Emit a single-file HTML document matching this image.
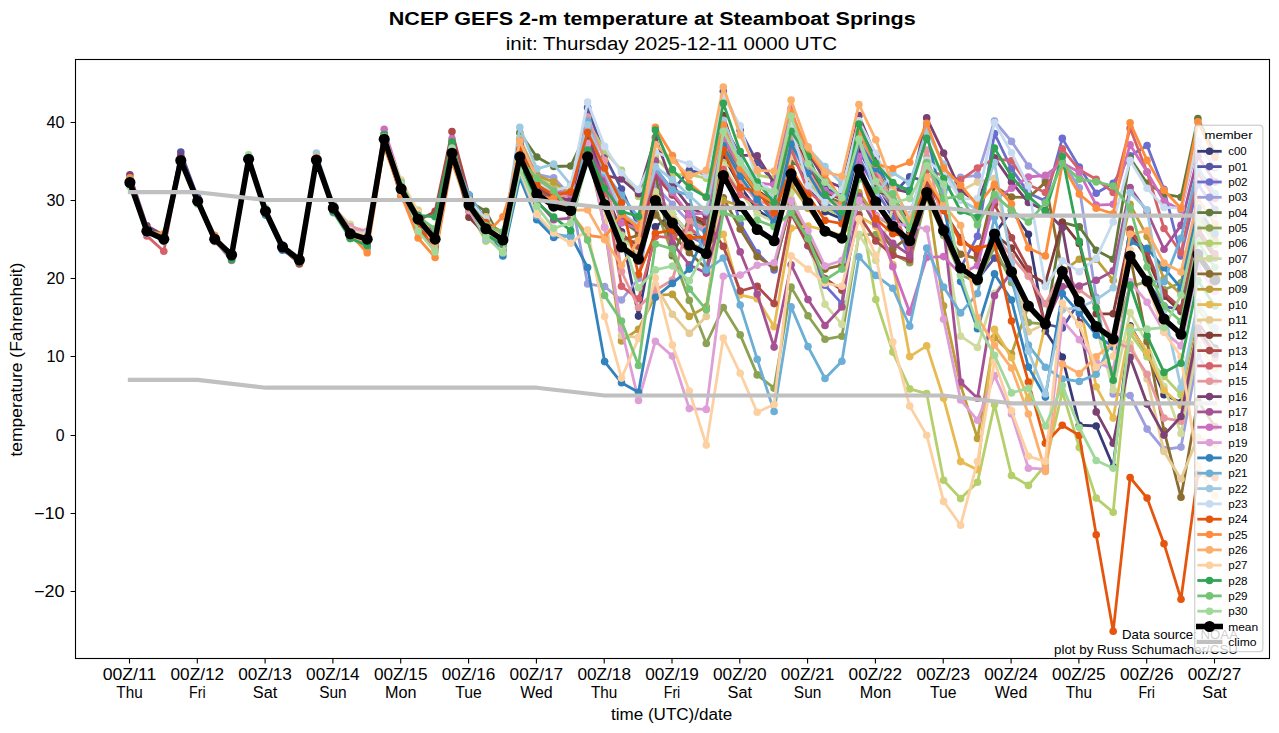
<!DOCTYPE html>
<html><head><meta charset="utf-8"><title>NCEP GEFS 2-m temperature at Steamboat Springs</title>
<style>html,body{margin:0;padding:0;background:#fff;overflow:hidden}svg{display:block}text{font-family:"Liberation Sans",sans-serif;fill:#000}</style></head><body>
<svg width="1279" height="733" viewBox="0 0 1279 733">
<rect width="1279" height="733" fill="#fff"/>
<defs>
<clipPath id="ax"><rect x="75.5" y="59.5" width="1194.0" height="599.0"/></clipPath>
<marker id="m0" markerWidth="10" markerHeight="10" refX="5" refY="5" markerUnits="userSpaceOnUse"><circle cx="5" cy="5" r="3.8" fill="#393b79"/></marker>
<marker id="m1" markerWidth="10" markerHeight="10" refX="5" refY="5" markerUnits="userSpaceOnUse"><circle cx="5" cy="5" r="3.8" fill="#5254a3"/></marker>
<marker id="m2" markerWidth="10" markerHeight="10" refX="5" refY="5" markerUnits="userSpaceOnUse"><circle cx="5" cy="5" r="3.8" fill="#6b6ecf"/></marker>
<marker id="m3" markerWidth="10" markerHeight="10" refX="5" refY="5" markerUnits="userSpaceOnUse"><circle cx="5" cy="5" r="3.8" fill="#9c9ede"/></marker>
<marker id="m4" markerWidth="10" markerHeight="10" refX="5" refY="5" markerUnits="userSpaceOnUse"><circle cx="5" cy="5" r="3.8" fill="#637939"/></marker>
<marker id="m5" markerWidth="10" markerHeight="10" refX="5" refY="5" markerUnits="userSpaceOnUse"><circle cx="5" cy="5" r="3.8" fill="#8ca252"/></marker>
<marker id="m6" markerWidth="10" markerHeight="10" refX="5" refY="5" markerUnits="userSpaceOnUse"><circle cx="5" cy="5" r="3.8" fill="#b5cf6b"/></marker>
<marker id="m7" markerWidth="10" markerHeight="10" refX="5" refY="5" markerUnits="userSpaceOnUse"><circle cx="5" cy="5" r="3.8" fill="#cedb9c"/></marker>
<marker id="m8" markerWidth="10" markerHeight="10" refX="5" refY="5" markerUnits="userSpaceOnUse"><circle cx="5" cy="5" r="3.8" fill="#8c6d31"/></marker>
<marker id="m9" markerWidth="10" markerHeight="10" refX="5" refY="5" markerUnits="userSpaceOnUse"><circle cx="5" cy="5" r="3.8" fill="#bd9e39"/></marker>
<marker id="m10" markerWidth="10" markerHeight="10" refX="5" refY="5" markerUnits="userSpaceOnUse"><circle cx="5" cy="5" r="3.8" fill="#e7ba52"/></marker>
<marker id="m11" markerWidth="10" markerHeight="10" refX="5" refY="5" markerUnits="userSpaceOnUse"><circle cx="5" cy="5" r="3.8" fill="#e7cb94"/></marker>
<marker id="m12" markerWidth="10" markerHeight="10" refX="5" refY="5" markerUnits="userSpaceOnUse"><circle cx="5" cy="5" r="3.8" fill="#843c39"/></marker>
<marker id="m13" markerWidth="10" markerHeight="10" refX="5" refY="5" markerUnits="userSpaceOnUse"><circle cx="5" cy="5" r="3.8" fill="#ad494a"/></marker>
<marker id="m14" markerWidth="10" markerHeight="10" refX="5" refY="5" markerUnits="userSpaceOnUse"><circle cx="5" cy="5" r="3.8" fill="#d6616b"/></marker>
<marker id="m15" markerWidth="10" markerHeight="10" refX="5" refY="5" markerUnits="userSpaceOnUse"><circle cx="5" cy="5" r="3.8" fill="#e7969c"/></marker>
<marker id="m16" markerWidth="10" markerHeight="10" refX="5" refY="5" markerUnits="userSpaceOnUse"><circle cx="5" cy="5" r="3.8" fill="#7b4173"/></marker>
<marker id="m17" markerWidth="10" markerHeight="10" refX="5" refY="5" markerUnits="userSpaceOnUse"><circle cx="5" cy="5" r="3.8" fill="#a55194"/></marker>
<marker id="m18" markerWidth="10" markerHeight="10" refX="5" refY="5" markerUnits="userSpaceOnUse"><circle cx="5" cy="5" r="3.8" fill="#ce6dbd"/></marker>
<marker id="m19" markerWidth="10" markerHeight="10" refX="5" refY="5" markerUnits="userSpaceOnUse"><circle cx="5" cy="5" r="3.8" fill="#de9ed6"/></marker>
<marker id="m20" markerWidth="10" markerHeight="10" refX="5" refY="5" markerUnits="userSpaceOnUse"><circle cx="5" cy="5" r="3.8" fill="#3182bd"/></marker>
<marker id="m21" markerWidth="10" markerHeight="10" refX="5" refY="5" markerUnits="userSpaceOnUse"><circle cx="5" cy="5" r="3.8" fill="#6baed6"/></marker>
<marker id="m22" markerWidth="10" markerHeight="10" refX="5" refY="5" markerUnits="userSpaceOnUse"><circle cx="5" cy="5" r="3.8" fill="#9ecae1"/></marker>
<marker id="m23" markerWidth="10" markerHeight="10" refX="5" refY="5" markerUnits="userSpaceOnUse"><circle cx="5" cy="5" r="3.8" fill="#c6dbef"/></marker>
<marker id="m24" markerWidth="10" markerHeight="10" refX="5" refY="5" markerUnits="userSpaceOnUse"><circle cx="5" cy="5" r="3.8" fill="#e6550d"/></marker>
<marker id="m25" markerWidth="10" markerHeight="10" refX="5" refY="5" markerUnits="userSpaceOnUse"><circle cx="5" cy="5" r="3.8" fill="#fd8d3c"/></marker>
<marker id="m26" markerWidth="10" markerHeight="10" refX="5" refY="5" markerUnits="userSpaceOnUse"><circle cx="5" cy="5" r="3.8" fill="#fdae6b"/></marker>
<marker id="m27" markerWidth="10" markerHeight="10" refX="5" refY="5" markerUnits="userSpaceOnUse"><circle cx="5" cy="5" r="3.8" fill="#fdd0a2"/></marker>
<marker id="m28" markerWidth="10" markerHeight="10" refX="5" refY="5" markerUnits="userSpaceOnUse"><circle cx="5" cy="5" r="3.8" fill="#31a354"/></marker>
<marker id="m29" markerWidth="10" markerHeight="10" refX="5" refY="5" markerUnits="userSpaceOnUse"><circle cx="5" cy="5" r="3.8" fill="#74c476"/></marker>
<marker id="m30" markerWidth="10" markerHeight="10" refX="5" refY="5" markerUnits="userSpaceOnUse"><circle cx="5" cy="5" r="3.8" fill="#a1d99b"/></marker>
<marker id="mm" markerWidth="14" markerHeight="14" refX="7" refY="7" markerUnits="userSpaceOnUse"><circle cx="7" cy="7" r="5.55" fill="#000"/></marker>
</defs>
<g clip-path="url(#ax)" fill="none" stroke-linejoin="round" stroke-linecap="butt">
<polyline points="129.9,182.9 146.9,230.9 163.8,238.4 180.8,159.7 197.7,201.1 214.7,239.1 231.6,255.2 248.6,159.5 265.5,211.9 282.5,247.3 299.4,259.2 316.4,158.9 333.3,207.2 350.3,234.4 367.2,239.4 384.2,136.1 401.1,183.5 418.1,217.7 435.1,246.6 452,151.2 469,195.6 485.9,220.6 502.9,236.1 519.8,148.9 536.8,186 553.7,198.4 570.7,202.7 587.6,142.1 604.6,190 621.5,231.7 638.5,316.1 655.4,226.8 672.4,214.2 689.3,233.8 706.3,238.8 723.3,155.9 740.2,186.4 757.2,210 774.1,221.2 791.1,154.2 808,183.5 825,211.7 841.9,218.7 858.9,149.7 875.8,182.2 892.8,211.6 909.7,231 926.7,187.6 943.6,230.5 960.6,268 977.5,279.5 994.5,234 1011.5,210.6 1028.4,234.3 1045.4,330.9 1062.3,357 1079.3,425.2 1096.2,426 1113.2,466.7 1130.1,325.7 1147.1,353.8 1164,394.7 1181,402.5 1197.9,322.6 1214.9,348.1" stroke="#393b79" stroke-width="2.78" marker-start="url(#m0)" marker-mid="url(#m0)" marker-end="url(#m0)"/>
<polyline points="129.9,184.1 146.9,232.9 163.8,239.3 180.8,152 197.7,197.3 214.7,239.6 231.6,256.1 248.6,160.6 265.5,212.4 282.5,247.2 299.4,260.1 316.4,160.9 333.3,210 350.3,236.8 367.2,239 384.2,141.6 401.1,190 418.1,219 435.1,245.1 452,157 469,202 485.9,237.2 502.9,247.2 519.8,139.5 536.8,176.6 553.7,189 570.7,193.3 587.6,107.6 604.6,155.5 621.5,189.1 638.5,227 655.4,168.2 672.4,190.7 689.3,170.4 706.3,174.1 723.3,91.2 740.2,130.3 757.2,162.4 774.1,182.1 791.1,140.6 808,160 825,188.2 841.9,195.3 858.9,126.2 875.8,158.8 892.8,194 909.7,176.7 926.7,181.7 943.6,230.5 960.6,268 977.5,279.5 994.5,258.1 1011.5,271.9 1028.4,306 1045.4,324 1062.3,328 1079.3,301.6 1096.2,326.5 1113.2,339 1130.1,256.1 1147.1,281.1 1164,306.1 1181,310.1 1197.9,232.6 1214.9,258.1" stroke="#5254a3" stroke-width="2.78" marker-start="url(#m1)" marker-mid="url(#m1)" marker-end="url(#m1)"/>
<polyline points="129.9,181.7 146.9,229 163.8,237.2 180.8,158.6 197.7,200 214.7,238.8 231.6,254.9 248.6,159 265.5,211.8 282.5,248.9 299.4,262.2 316.4,162.2 333.3,210.2 350.3,232.2 367.2,240.3 384.2,141.5 401.1,195.1 418.1,221.1 435.1,236.2 452,152.7 469,205.1 485.9,230 502.9,242.7 519.8,152 536.8,189.1 553.7,201.5 570.7,205.8 587.6,148 604.6,195.9 621.5,238.2 638.5,250.5 655.4,191.7 672.4,214.2 689.3,236.2 706.3,244.7 723.3,163.8 740.2,223.7 757.2,252.7 774.1,269.9 791.1,200.4 808,245.8 825,285.3 841.9,303.6 858.9,157.5 875.8,190 892.8,217.5 909.7,257.4 926.7,189.6 943.6,230.5 960.6,268 977.5,236.2 994.5,133.5 1011.5,168.8 1028.4,192.9 1045.4,200.9 1062.3,138.4 1079.3,167.1 1096.2,193.3 1113.2,183.2 1130.1,155.7 1147.1,145.5 1164,189.4 1181,255.9 1197.9,183.9 1214.9,209.3" stroke="#6b6ecf" stroke-width="2.78" marker-start="url(#m2)" marker-mid="url(#m2)" marker-end="url(#m2)"/>
<polyline points="129.9,180.8 146.9,229.7 163.8,238.5 180.8,160.6 197.7,200.2 214.7,237.3 231.6,253.4 248.6,157.7 265.5,209.5 282.5,244.8 299.4,257.8 316.4,157.8 333.3,212.7 350.3,233.7 367.2,235.9 384.2,134.1 401.1,183.5 418.1,221.9 435.1,242.6 452,151.2 469,211.1 485.9,232.6 502.9,236.4 519.8,145.2 536.8,174.3 553.7,177.8 570.7,195.7 587.6,283.9 604.6,286.6 621.5,300 638.5,278.5 655.4,186 672.4,204.3 689.3,222.1 706.3,233 723.3,148.1 740.2,178.6 757.2,202.2 774.1,213.4 791.1,146.4 808,175.6 825,203.9 841.9,210.9 858.9,141.9 875.8,186.4 892.8,205.6 909.7,214.8 926.7,161.3 943.6,192.6 960.6,177.4 977.5,175.4 994.5,121 1011.5,141.4 1028.4,166 1045.4,179.8 1062.3,161.3 1079.3,187.8 1096.2,297.2 1113.2,394 1130.1,395.5 1147.1,429.1 1164,449.5 1181,447.1 1197.9,355.9 1214.9,381.4" stroke="#9c9ede" stroke-width="2.78" marker-start="url(#m3)" marker-mid="url(#m3)" marker-end="url(#m3)"/>
<polyline points="129.9,182.1 146.9,232.2 163.8,239.7 180.8,160.5 197.7,201.2 214.7,238.7 231.6,256 248.6,159.8 265.5,211.7 282.5,247.3 299.4,261.3 316.4,160.2 333.3,210.2 350.3,237.8 367.2,242.8 384.2,144.4 401.1,195.3 418.1,226.6 435.1,236.5 452,148.9 469,200.9 485.9,211.4 502.9,243 519.8,132.7 536.8,157 553.7,166.5 570.7,166 587.6,130.4 604.6,178.3 621.5,220.6 638.5,232.9 655.4,174.1 672.4,255.8 689.3,218.6 706.3,227.1 723.3,140.3 740.2,170.8 757.2,194.3 774.1,205.6 791.1,162.6 808,167.8 825,196.1 841.9,203.1 858.9,134 875.8,166.6 892.8,199.9 909.7,223.2 926.7,183.7 943.6,230.5 960.6,268 977.5,279.5 994.5,234 1011.5,271.9 1028.4,306 1045.4,324 1062.3,222.3 1079.3,226.9 1096.2,250.2 1113.2,259.2 1130.1,158.1 1147.1,183.2 1164,194.1 1181,197.2 1197.9,118.5 1214.9,153.5" stroke="#637939" stroke-width="2.78" marker-start="url(#m4)" marker-mid="url(#m4)" marker-end="url(#m4)"/>
<polyline points="129.9,183.5 146.9,231.2 163.8,238.7 180.8,160 197.7,200.9 214.7,239 231.6,254.4 248.6,159.1 265.5,210.9 282.5,246.2 299.4,259.6 316.4,158.8 333.3,206.6 350.3,229.7 367.2,236.2 384.2,138.7 401.1,189.6 418.1,219.9 435.1,236.4 452,153 469,203.3 485.9,219 502.9,247.7 519.8,154.2 536.8,191.3 553.7,203.7 570.7,208 587.6,152 604.6,200 621.5,242.3 638.5,240.9 655.4,206.7 672.4,253.8 689.3,300.4 706.3,343.5 723.3,307.5 740.2,334.9 757.2,374.9 774.1,388.2 791.1,287.1 808,315.8 825,339.3 841.9,336.2 858.9,234.6 875.8,234.6 892.8,253.7 909.7,262.8 926.7,196.5 943.6,235.6 960.6,274.7 977.5,282.5 994.5,247.3 1011.5,282.5 1028.4,322.6 1045.4,324 1062.3,271.6 1079.3,301.6 1096.2,326.5 1113.2,339 1130.1,286.6 1147.1,281.7 1164,289.7 1181,282.7 1197.9,207.9 1214.9,233.4" stroke="#8ca252" stroke-width="2.78" marker-start="url(#m5)" marker-mid="url(#m5)" marker-end="url(#m5)"/>
<polyline points="129.9,182.9 146.9,231.5 163.8,238.9 180.8,159.9 197.7,201.1 214.7,237.5 231.6,253.9 248.6,158.4 265.5,209.5 282.5,246.4 299.4,258.8 316.4,158 333.3,205.8 350.3,231.8 367.2,233.9 384.2,136.8 401.1,188.1 418.1,221.3 435.1,242 452,161.1 469,211.4 485.9,241.1 502.9,242.5 519.8,138 536.8,175 553.7,187.5 570.7,191.8 587.6,121.5 604.6,150.8 621.5,170.4 638.5,196.5 655.4,157.4 672.4,174.6 689.3,174.6 706.3,178.2 723.3,162.6 740.2,172.4 757.2,175.1 774.1,178.2 791.1,137.9 808,177 825,208.2 841.9,216.1 858.9,200.4 875.8,299.6 892.8,352.1 909.7,388.9 926.7,393.6 943.6,480.2 960.6,498.6 977.5,482.2 994.5,404.6 1011.5,475.5 1028.4,485.4 1045.4,465.2 1062.3,391.6 1079.3,447.4 1096.2,498.1 1113.2,512.3 1130.1,333.4 1147.1,356.8 1164,376.4 1181,394.7 1197.9,308.8 1214.9,334.3" stroke="#b5cf6b" stroke-width="2.78" marker-start="url(#m6)" marker-mid="url(#m6)" marker-end="url(#m6)"/>
<polyline points="129.9,184.3 146.9,231.9 163.8,241.4 180.8,161.3 197.7,203.1 214.7,239.9 231.6,257 248.6,160.5 265.5,210.9 282.5,247.1 299.4,260 316.4,159.2 333.3,207.5 350.3,224.4 367.2,236.6 384.2,135.4 401.1,187.7 418.1,210 435.1,238.3 452,149.3 469,204.2 485.9,228 502.9,236.2 519.8,151.8 536.8,187.5 553.7,199.5 570.7,203.2 587.6,148.9 604.6,196.8 621.5,239.1 638.5,251.4 655.4,191.9 672.4,213.6 689.3,234.4 706.3,241.8 723.3,165.2 740.2,192.6 757.2,213.7 774.1,221.5 791.1,192.6 808,238 825,304.3 841.9,324.4 858.9,234.6 875.8,260.5 892.8,208.6 909.7,229 926.7,186.7 943.6,230.5 960.6,336.2 977.5,347.4 994.5,293.3 1011.5,271.9 1028.4,306 1045.4,324 1062.3,271.6 1079.3,301.6 1096.2,326.5 1113.2,390 1130.1,312.6 1147.1,343.1 1164,386.5 1181,433.5 1197.9,343.7 1214.9,369.2" stroke="#cedb9c" stroke-width="2.78" marker-start="url(#m7)" marker-mid="url(#m7)" marker-end="url(#m7)"/>
<polyline points="129.9,183.8 146.9,231.4 163.8,238.5 180.8,161.1 197.7,202.9 214.7,240.3 231.6,255.7 248.6,160.3 265.5,213.3 282.5,249.2 299.4,262 316.4,162.2 333.3,210.2 350.3,236.2 367.2,240.6 384.2,142.6 401.1,188.8 418.1,228 435.1,247.8 452,156.3 469,200.5 485.9,229 502.9,239.2 519.8,153 536.8,190 553.7,202.5 570.7,206.8 587.6,149.7 604.6,197.7 621.5,240 638.5,235.4 655.4,215 672.4,234.1 689.3,252.7 706.3,268.5 723.3,197.8 740.2,229.1 757.2,256.6 774.1,267.5 791.1,204.2 808,237.2 825,269.1 841.9,265.2 858.9,194.7 875.8,225.8 892.8,248.8 909.7,236.1 926.7,190.2 943.6,230.5 960.6,254.2 977.5,258.9 994.5,186.3 1011.5,197 1028.4,197.7 1045.4,182.4 1062.3,271.6 1079.3,301.6 1096.2,326.5 1113.2,339 1130.1,256.1 1147.1,341.4 1164,430.7 1181,497.3 1197.9,401.1 1214.9,426.6" stroke="#8c6d31" stroke-width="2.78" marker-start="url(#m8)" marker-mid="url(#m8)" marker-end="url(#m8)"/>
<polyline points="129.9,183.9 146.9,231.5 163.8,240.3 180.8,160.5 197.7,200.3 214.7,237.6 231.6,254.5 248.6,159.8 265.5,210.8 282.5,246.8 299.4,259.9 316.4,158.4 333.3,207.6 350.3,238.4 367.2,243.3 384.2,146.8 401.1,191.4 418.1,220.2 435.1,242.6 452,155.7 469,203.2 485.9,227.8 502.9,233 519.8,144 536.8,175.3 553.7,182.1 570.7,194.5 587.6,148.9 604.6,227 621.5,340.9 638.5,329.4 655.4,295.4 672.4,294.4 689.3,316.4 706.3,306.7 723.3,200.4 740.2,206 757.2,229.5 774.1,240.8 791.1,184.8 808,208.2 825,231.2 841.9,238.3 858.9,192.6 875.8,216.1 892.8,226.2 909.7,240.8 926.7,188.7 943.6,305.9 960.6,385.1 977.5,438.4 994.5,337.3 1011.5,353.8 1028.4,306 1045.4,324 1062.3,271.6 1079.3,259.2 1096.2,259.2 1113.2,280.3 1130.1,204.4 1147.1,236.4 1164,278.8 1181,294.1 1197.9,214.2 1214.9,239.7" stroke="#bd9e39" stroke-width="2.78" marker-start="url(#m9)" marker-mid="url(#m9)" marker-end="url(#m9)"/>
<polyline points="129.9,183.9 146.9,232.1 163.8,239.4 180.8,161.1 197.7,202.8 214.7,240.1 231.6,254.9 248.6,159.9 265.5,210.7 282.5,247.5 299.4,261.9 316.4,161.6 333.3,207.7 350.3,233.9 367.2,239.6 384.2,139.5 401.1,188.7 418.1,221.5 435.1,246.7 452,157 469,211.2 485.9,234.3 502.9,250.2 519.8,155.2 536.8,192.2 553.7,204.7 570.7,209 587.6,153.8 604.6,201.8 621.5,244.1 638.5,256.3 655.4,197.5 672.4,220.1 689.3,242.1 706.3,250.5 723.3,234.3 740.2,294.9 757.2,298.8 774.1,326.7 791.1,228.3 808,226 825,230.1 841.9,235.6 858.9,216.1 875.8,226 892.8,264.5 909.7,356.6 926.7,345.9 943.6,398.3 960.6,461.6 977.5,469.7 994.5,329.4 1011.5,357.7 1028.4,399.1 1045.4,324 1062.3,271.6 1079.3,301.6 1096.2,386.8 1113.2,418.1 1130.1,327.3 1147.1,352.3 1164,390.2 1181,405.5 1197.9,325.6 1214.9,351.1" stroke="#e7ba52" stroke-width="2.78" marker-start="url(#m10)" marker-mid="url(#m10)" marker-end="url(#m10)"/>
<polyline points="129.9,181.2 146.9,229.7 163.8,237.6 180.8,159.3 197.7,199.7 214.7,238 231.6,255.2 248.6,160.7 265.5,212.6 282.5,246.6 299.4,260.2 316.4,161.1 333.3,209.5 350.3,236.7 367.2,240.9 384.2,142.8 401.1,189.5 418.1,227.1 435.1,242.3 452,157.3 469,215.7 485.9,216.8 502.9,242.6 519.8,144.2 536.8,181.3 553.7,193.7 570.7,198 587.6,153.5 604.6,208.2 621.5,335.7 638.5,337.3 655.4,285.1 672.4,314.2 689.3,333.4 706.3,316.4 723.3,175.5 740.2,206 757.2,229.5 774.1,240.8 791.1,155.9 808,176.7 825,200 841.9,207 858.9,138 875.8,170.5 892.8,202.8 909.7,225.1 926.7,156.3 943.6,173.8 960.6,191 977.5,182.1 994.5,178.2 1011.5,256.9 1028.4,331.8 1045.4,324 1062.3,271.6 1079.3,301.6 1096.2,326.5 1113.2,339 1130.1,343.8 1147.1,379 1164,451.4 1181,479 1197.9,437 1214.9,444.2" stroke="#e7cb94" stroke-width="2.78" marker-start="url(#m11)" marker-mid="url(#m11)" marker-end="url(#m11)"/>
<polyline points="129.9,181.2 146.9,230.8 163.8,238.7 180.8,159.8 197.7,201.1 214.7,239.1 231.6,254.8 248.6,158.7 265.5,211.8 282.5,249.1 299.4,263.5 316.4,160.8 333.3,208.9 350.3,236.6 367.2,238.1 384.2,134.4 401.1,183.8 418.1,216.7 435.1,234.1 452,151.2 469,217.2 485.9,234.8 502.9,242 519.8,141.1 536.8,178.1 553.7,190.6 570.7,194.9 587.6,127.4 604.6,175.4 621.5,217.7 638.5,229.9 655.4,171.2 672.4,193.7 689.3,215.7 706.3,224.2 723.3,115.5 740.2,166.9 757.2,190.4 774.1,201.7 791.1,134.7 808,163.9 825,192.1 841.9,199.2 858.9,130.1 875.8,190.7 892.8,196.9 909.7,221.2 926.7,182.8 943.6,230.5 960.6,268 977.5,279.5 994.5,234 1011.5,248 1028.4,273.6 1045.4,283.2 1062.3,222.2 1079.3,243.4 1096.2,313.8 1113.2,313.8 1130.1,233.4 1147.1,258.4 1164,296.3 1181,311.6 1197.9,231.7 1214.9,257.2" stroke="#843c39" stroke-width="2.78" marker-start="url(#m12)" marker-mid="url(#m12)" marker-end="url(#m12)"/>
<polyline points="129.9,183.2 146.9,232.3 163.8,239.9 180.8,160.7 197.7,200.7 214.7,239.1 231.6,255.1 248.6,160.4 265.5,212.4 282.5,246.7 299.4,263.9 316.4,160.9 333.3,209.7 350.3,230.3 367.2,234.8 384.2,135.1 401.1,193.9 418.1,220.4 435.1,211.4 452,131.6 469,195 485.9,225.5 502.9,235.4 519.8,149.8 536.8,186.9 553.7,199.3 570.7,203.6 587.6,143.8 604.6,191.8 621.5,234.1 638.5,246.3 655.4,175.9 672.4,195.1 689.3,215 706.3,220.5 723.3,246.4 740.2,291 757.2,286.3 774.1,303.6 791.1,213.7 808,245.6 825,278.5 841.9,290.2 858.9,214.7 875.8,240.9 892.8,255.2 909.7,259.7 926.7,182.9 943.6,210.6 960.6,237.7 977.5,254.2 994.5,204.3 1011.5,237.7 1028.4,269.1 1045.4,324 1062.3,271.6 1079.3,301.6 1096.2,326.5 1113.2,339 1130.1,229.3 1147.1,252 1164,292.9 1181,308.2 1197.9,228.3 1214.9,253.8" stroke="#ad494a" stroke-width="2.78" marker-start="url(#m13)" marker-mid="url(#m13)" marker-end="url(#m13)"/>
<polyline points="129.9,179.4 146.9,235.9 163.8,251.3 180.8,160.3 197.7,200.3 214.7,239.3 231.6,255.2 248.6,159.8 265.5,210.1 282.5,245.8 299.4,259.7 316.4,159.7 333.3,206.1 350.3,233.7 367.2,239.1 384.2,140.2 401.1,198.2 418.1,220.3 435.1,237.3 452,155.6 469,209.5 485.9,226.4 502.9,235 519.8,142.2 536.8,183.8 553.7,196.2 570.7,200.5 587.6,138 604.6,186 621.5,286.3 638.5,298.8 655.4,236.4 672.4,237.7 689.3,227.6 706.3,241.9 723.3,169.6 740.2,194.6 757.2,204.5 774.1,215.8 791.1,148.7 808,190.7 825,206.2 841.9,213.3 858.9,144.2 875.8,176.7 892.8,207.5 909.7,251.6 926.7,170.3 943.6,175.3 960.6,179.8 977.5,168.1 994.5,158.6 1011.5,160.9 1028.4,184.8 1045.4,192.5 1062.3,148.9 1079.3,169.8 1096.2,179.2 1113.2,192.5 1130.1,128.3 1147.1,172 1164,228.5 1181,252.8 1197.9,173 1214.9,198.5" stroke="#d6616b" stroke-width="2.78" marker-start="url(#m14)" marker-mid="url(#m14)" marker-end="url(#m14)"/>
<polyline points="129.9,184.6 146.9,233.1 163.8,240.7 180.8,161.3 197.7,201.7 214.7,239.2 231.6,255 248.6,159.8 265.5,211 282.5,247 299.4,261.3 316.4,161.8 333.3,209.3 350.3,226.7 367.2,231.4 384.2,140.5 401.1,189.5 418.1,220.6 435.1,245.2 452,155.5 469,202.2 485.9,225.5 502.9,239.5 519.8,143.6 536.8,180.6 553.7,193.1 570.7,197.4 587.6,117.1 604.6,160.2 621.5,271.5 638.5,307.5 655.4,290.2 672.4,280 689.3,220.4 706.3,228.9 723.3,142.6 740.2,182.1 757.2,200.4 774.1,206.5 791.1,134.3 808,170.2 825,198.4 841.9,205.4 858.9,136.4 875.8,168.9 892.8,201.6 909.7,224.4 926.7,150 943.6,230.5 960.6,268 977.5,279.5 994.5,234 1011.5,256.6 1028.4,276.2 1045.4,303.8 1062.3,271.6 1079.3,289.7 1096.2,302.1 1113.2,341.2 1130.1,348.4 1147.1,374.3 1164,418.1 1181,421.2 1197.9,332.6 1214.9,358.1" stroke="#e7969c" stroke-width="2.78" marker-start="url(#m15)" marker-mid="url(#m15)" marker-end="url(#m15)"/>
<polyline points="129.9,174.7 146.9,225.8 163.8,235.3 180.8,155.8 197.7,202.1 214.7,239.6 231.6,254.1 248.6,158.6 265.5,209.8 282.5,247.5 299.4,260.9 316.4,161.3 333.3,208.8 350.3,233 367.2,237.8 384.2,137.3 401.1,187.3 418.1,220.4 435.1,238.7 452,151.1 469,198.4 485.9,232.6 502.9,243.9 519.8,144.5 536.8,184.8 553.7,196.5 570.7,200.4 587.6,137.9 604.6,175.4 621.5,179 638.5,193.8 655.4,137.5 672.4,184.9 689.3,206.9 706.3,215.4 723.3,124.7 740.2,155.2 757.2,155.9 774.1,182.9 791.1,122.9 808,152.2 825,180.4 841.9,187.5 858.9,115.5 875.8,156.3 892.8,188.7 909.7,192.6 926.7,117.9 943.6,153.1 960.6,190.7 977.5,202.7 994.5,157.8 1011.5,182.1 1028.4,202.5 1045.4,210.5 1062.3,227.7 1079.3,322.4 1096.2,411.9 1113.2,443.2 1130.1,357.4 1147.1,404.1 1164,435.1 1181,416.5 1197.9,328.4 1214.9,353.9" stroke="#7b4173" stroke-width="2.78" marker-start="url(#m16)" marker-mid="url(#m16)" marker-end="url(#m16)"/>
<polyline points="129.9,184.2 146.9,232.6 163.8,239.5 180.8,160.4 197.7,200.6 214.7,239.2 231.6,252.8 248.6,157 265.5,210.2 282.5,246.4 299.4,257.8 316.4,158.6 333.3,206.2 350.3,231.5 367.2,238.3 384.2,141.9 401.1,182.5 418.1,219.3 435.1,235.5 452,148.1 469,202.2 485.9,223.3 502.9,234.2 519.8,157.4 536.8,200.8 553.7,219.7 570.7,218.1 587.6,147.3 604.6,178.2 621.5,216.1 638.5,224 655.4,160.9 672.4,243.2 689.3,264.9 706.3,273.1 723.3,208.2 740.2,251.9 757.2,294.1 774.1,347.1 791.1,264.7 808,299.6 825,325.5 841.9,307 858.9,196.2 875.8,223.9 892.8,243.4 909.7,255.2 926.7,192.6 943.6,227.8 960.6,382 977.5,398.3 994.5,295.7 1011.5,271.9 1028.4,306 1045.4,324 1062.3,286.6 1079.3,286 1096.2,280.3 1113.2,270.9 1130.1,187.5 1147.1,211.8 1164,249.2 1181,225.4 1197.9,156.3 1214.9,181.9" stroke="#a55194" stroke-width="2.78" marker-start="url(#m17)" marker-mid="url(#m17)" marker-end="url(#m17)"/>
<polyline points="129.9,184.3 146.9,232.6 163.8,240.2 180.8,160.4 197.7,202.9 214.7,240.8 231.6,260.5 248.6,161.4 265.5,212.5 282.5,248.8 299.4,262.2 316.4,158.8 333.3,206.4 350.3,231.5 367.2,238.9 384.2,129.3 401.1,181.7 418.1,224.7 435.1,247.3 452,138.7 469,210.8 485.9,235.2 502.9,250.6 519.8,140.5 536.8,177.5 553.7,190 570.7,194.3 587.6,126.2 604.6,174.2 621.5,222.9 638.5,228.7 655.4,170 672.4,192.5 689.3,214.5 706.3,212.6 723.3,136.5 740.2,168.8 757.2,182.9 774.1,184.8 791.1,108.4 808,162.4 825,190.6 841.9,197.6 858.9,156.3 875.8,215.5 892.8,266.7 909.7,312.2 926.7,257.4 943.6,256.6 960.6,274.1 977.5,265.6 994.5,200.1 1011.5,188.3 1028.4,177 1045.4,175.3 1062.3,162.7 1079.3,172.4 1096.2,205.1 1113.2,204.3 1130.1,144.7 1147.1,172.1 1164,201.2 1181,209.8 1197.9,142.3 1214.9,167.8" stroke="#ce6dbd" stroke-width="2.78" marker-start="url(#m18)" marker-mid="url(#m18)" marker-end="url(#m18)"/>
<polyline points="129.9,181 146.9,229.7 163.8,239.3 180.8,161.6 197.7,202.6 214.7,240.4 231.6,256.8 248.6,160.1 265.5,211.2 282.5,246.1 299.4,258.4 316.4,157.8 333.3,205.8 350.3,228.3 367.2,234.5 384.2,141.6 401.1,192.8 418.1,221.5 435.1,240.2 452,151.4 469,210.4 485.9,237.6 502.9,245 519.8,154.8 536.8,191.9 553.7,204.3 570.7,208.6 587.6,143.4 604.6,227.6 621.5,329 638.5,400.4 655.4,341.2 672.4,356.1 689.3,408.6 706.3,409.4 723.3,276.2 740.2,275.1 757.2,265.2 774.1,262.8 791.1,200.9 808,230.7 825,266 841.9,260.5 858.9,200.4 875.8,216.1 892.8,223.9 909.7,225.5 926.7,229.1 943.6,319.2 960.6,399.9 977.5,420.3 994.5,375.5 1011.5,414 1028.4,468.2 1045.4,469.1 1062.3,320.2 1079.3,339.8 1096.2,361.7 1113.2,369.6 1130.1,281.9 1147.1,302.2 1164,331.9 1181,345.9 1197.9,266 1214.9,291.5" stroke="#de9ed6" stroke-width="2.78" marker-start="url(#m19)" marker-mid="url(#m19)" marker-end="url(#m19)"/>
<polyline points="129.9,180.9 146.9,229.8 163.8,238.3 180.8,159.5 197.7,200.7 214.7,237.4 231.6,253.4 248.6,157 265.5,215.1 282.5,250.2 299.4,259.9 316.4,158.8 333.3,208.2 350.3,236.2 367.2,242.8 384.2,143.6 401.1,189.7 418.1,218.7 435.1,247 452,146.2 469,202.5 485.9,221.2 502.9,255.9 519.8,177.8 536.8,219.8 553.7,237.4 570.7,235.6 587.6,267.5 604.6,361.6 621.5,382.8 638.5,392.2 655.4,297.2 672.4,283.4 689.3,269.1 706.3,231.2 723.3,145.8 740.2,176.3 757.2,199.8 774.1,222.9 791.1,144.1 808,173.3 825,201.5 841.9,217.3 858.9,142.3 875.8,168.8 892.8,184.4 909.7,190 926.7,132.7 943.6,207.4 960.6,281.6 977.5,328.7 994.5,273.9 1011.5,300 1028.4,367.1 1045.4,397.1 1062.3,293.6 1079.3,313.1 1096.2,335.1 1113.2,346.9 1130.1,241.9 1147.1,248.4 1164,267.8 1181,288.2 1197.9,208.2 1214.9,233.7" stroke="#3182bd" stroke-width="2.78" marker-start="url(#m20)" marker-mid="url(#m20)" marker-end="url(#m20)"/>
<polyline points="129.9,183.6 146.9,232.5 163.8,241.1 180.8,162 197.7,202.9 214.7,241.4 231.6,256.6 248.6,160.8 265.5,212.2 282.5,247.1 299.4,260.7 316.4,157.8 333.3,207.2 350.3,231.9 367.2,248.6 384.2,136.1 401.1,194 418.1,225.2 435.1,242.2 452,152.9 469,194.7 485.9,221.3 502.9,250.9 519.8,173.2 536.8,215.8 553.7,233.8 570.7,236.9 587.6,121 604.6,172.8 621.5,195.4 638.5,217.2 655.4,168.1 672.4,189.9 689.3,195.4 706.3,270 723.3,258.1 740.2,305.1 757.2,359.2 774.1,411.5 791.1,306.7 808,346.6 825,378.5 841.9,361.3 858.9,256.9 875.8,275.4 892.8,288.2 909.7,326.2 926.7,248 943.6,287.1 960.6,312.9 977.5,293.6 994.5,217.3 1011.5,278.5 1028.4,345.1 1045.4,367.3 1062.3,379 1079.3,381.4 1096.2,374.3 1113.2,339 1130.1,256.1 1147.1,281.1 1164,281.8 1181,238.3 1197.9,168 1214.9,193.5" stroke="#6baed6" stroke-width="2.78" marker-start="url(#m21)" marker-mid="url(#m21)" marker-end="url(#m21)"/>
<polyline points="129.9,184.7 146.9,233.4 163.8,240.1 180.8,160.2 197.7,203 214.7,240.6 231.6,256.3 248.6,160.9 265.5,211.5 282.5,248.2 299.4,260.9 316.4,153 333.3,204.1 350.3,235.8 367.2,241.3 384.2,139.6 401.1,190.9 418.1,218.6 435.1,239.2 452,153.9 469,205.8 485.9,238.9 502.9,237.9 519.8,127.2 536.8,168.8 553.7,164.1 570.7,184.8 587.6,124.9 604.6,170.7 621.5,213 638.5,225.2 655.4,166.5 672.4,179.7 689.3,195.4 706.3,211.1 723.3,120.2 740.2,160.6 757.2,184.2 774.1,195.4 791.1,128.8 808,148.1 825,166.5 841.9,183.7 858.9,138.8 875.8,195.4 892.8,172.8 909.7,183 926.7,130.4 943.6,164.1 960.6,200 977.5,209.8 994.5,162.6 1011.5,262.8 1028.4,351.3 1045.4,394 1062.3,309.8 1079.3,307.4 1096.2,299.9 1113.2,287.8 1130.1,192.5 1147.1,209.7 1164,310 1181,387.6 1197.9,302.4 1214.9,327.9" stroke="#9ecae1" stroke-width="2.78" marker-start="url(#m22)" marker-mid="url(#m22)" marker-end="url(#m22)"/>
<polyline points="129.9,180.6 146.9,229.5 163.8,238.4 180.8,160.4 197.7,200.4 214.7,237.5 231.6,253.8 248.6,159.1 265.5,210.1 282.5,246.2 299.4,259.1 316.4,157.8 333.3,205.8 350.3,232.3 367.2,233.2 384.2,135.3 401.1,183.9 418.1,218.2 435.1,238.5 452,159.6 469,200.6 485.9,219.3 502.9,240.3 519.8,153.5 536.8,183.2 553.7,190.3 570.7,186.4 587.6,102.1 604.6,146.4 621.5,172.8 638.5,189.4 655.4,152.3 672.4,158.5 689.3,164.1 706.3,175.1 723.3,96.1 740.2,125.7 757.2,181 774.1,192.3 791.1,125.3 808,185.7 825,202.5 841.9,189.8 858.9,120.8 875.8,153.3 892.8,189.9 909.7,216.5 926.7,160.2 943.6,173.5 960.6,199 977.5,198.6 994.5,122.6 1011.5,152.8 1028.4,186 1045.4,286.6 1062.3,260.7 1079.3,271.7 1096.2,258.4 1113.2,221.9 1130.1,160.4 1147.1,188.2 1164,207.4 1181,208.2 1197.9,140.9 1214.9,166.4" stroke="#c6dbef" stroke-width="2.78" marker-start="url(#m23)" marker-mid="url(#m23)" marker-end="url(#m23)"/>
<polyline points="129.9,180.7 146.9,230.8 163.8,240 180.8,161.2 197.7,200.4 214.7,238.2 231.6,255.8 248.6,159.1 265.5,211.6 282.5,247.9 299.4,257.8 316.4,157.8 333.3,205.8 350.3,230.5 367.2,238.1 384.2,136.6 401.1,187.5 418.1,227.3 435.1,244.3 452,150.2 469,204.7 485.9,222.6 502.9,232.5 519.8,149.2 536.8,184.6 553.7,195.4 570.7,191.9 587.6,132.4 604.6,168.1 621.5,202.9 638.5,274.6 655.4,233.3 672.4,229.9 689.3,237.7 706.3,237.1 723.3,150 740.2,187.5 757.2,191.4 774.1,212.6 791.1,168.8 808,195.2 825,220.5 841.9,223.7 858.9,170.5 875.8,218.9 892.8,233.8 909.7,236.6 926.7,176.7 943.6,209.7 960.6,242.2 977.5,248.8 994.5,243.2 1011.5,321.1 1028.4,382 1045.4,443.2 1062.3,425.2 1079.3,435.4 1096.2,534.7 1113.2,631.3 1130.1,477.5 1147.1,498.1 1164,543.7 1181,599.2 1197.9,474.1 1214.9,477.6" stroke="#e6550d" stroke-width="2.78" marker-start="url(#m24)" marker-mid="url(#m24)" marker-end="url(#m24)"/>
<polyline points="129.9,177.8 146.9,232 163.8,233.7 180.8,160.8 197.7,201.6 214.7,235.3 231.6,255.8 248.6,160.5 265.5,212 282.5,247.5 299.4,260 316.4,160.6 333.3,208.1 350.3,234.4 367.2,252.8 384.2,146.3 401.1,194.6 418.1,238 435.1,257.5 452,161.9 469,207.9 485.9,234.1 502.9,216.8 519.8,161.3 536.8,196.5 553.7,198.6 570.7,212.9 587.6,235.4 604.6,237.7 621.5,214.2 638.5,227.6 655.4,127.2 672.4,155.5 689.3,183.2 706.3,197.2 723.3,124.9 740.2,168.5 757.2,192 774.1,203.2 791.1,112.4 808,150.8 825,174.3 841.9,200.7 858.9,131.7 875.8,164.2 892.8,168.5 909.7,162.3 926.7,123.3 943.6,168.1 960.6,185.2 977.5,205.6 994.5,184.4 1011.5,204 1028.4,248 1045.4,255.9 1062.3,164.5 1079.3,194.1 1096.2,208.2 1113.2,213.7 1130.1,122.7 1147.1,160.4 1164,190.2 1181,208.2 1197.9,121.9 1214.9,157.4" stroke="#fd8d3c" stroke-width="2.78" marker-start="url(#m25)" marker-mid="url(#m25)" marker-end="url(#m25)"/>
<polyline points="129.9,184.7 146.9,231.4 163.8,239.1 180.8,160.1 197.7,202.4 214.7,241.4 231.6,256.5 248.6,159.6 265.5,211.8 282.5,246.4 299.4,262.2 316.4,156.9 333.3,207.2 350.3,237.2 367.2,241.3 384.2,135.4 401.1,191.9 418.1,211.5 435.1,250.2 452,159.5 469,204.9 485.9,229.3 502.9,232.2 519.8,141.1 536.8,178.1 553.7,190.6 570.7,210.3 587.6,209.8 604.6,239.6 621.5,265.2 638.5,240.4 655.4,144.5 672.4,160.2 689.3,175.9 706.3,170.4 723.3,87 740.2,135.1 757.2,170.4 774.1,171.2 791.1,100.1 808,146.9 825,172 841.9,176.2 858.9,104.5 875.8,139.8 892.8,185.3 909.7,220 926.7,177 943.6,204.3 960.6,225.5 977.5,317.6 994.5,345.1 1011.5,368.1 1028.4,414 1045.4,471.4 1062.3,364.1 1079.3,373.5 1096.2,356.7 1113.2,343.1 1130.1,234.1 1147.1,230.8 1164,263.1 1181,272.1 1197.9,198.5 1214.9,224" stroke="#fdae6b" stroke-width="2.78" marker-start="url(#m26)" marker-mid="url(#m26)" marker-end="url(#m26)"/>
<polyline points="129.9,181.2 146.9,229.8 163.8,238.2 180.8,159.3 197.7,200 214.7,239.6 231.6,255.2 248.6,157.6 265.5,210.7 282.5,247.6 299.4,261.7 316.4,162.2 333.3,208.7 350.3,230.4 367.2,235.9 384.2,136.2 401.1,179.9 418.1,212.2 435.1,238.8 452,159.5 469,200.4 485.9,230.4 502.9,246.6 519.8,170.2 536.8,214.2 553.7,232.8 570.7,243.2 587.6,229.9 604.6,316.4 621.5,378.1 638.5,338.4 655.4,277.8 672.4,345.1 689.3,391 706.3,445.1 723.3,338 740.2,373.3 757.2,412.3 774.1,404.5 791.1,255.8 808,269.1 825,283.2 841.9,286.3 858.9,218.9 875.8,255.3 892.8,342 909.7,406.1 926.7,435.2 943.6,501.4 960.6,525.2 977.5,461.6 994.5,361.6 1011.5,410.8 1028.4,456.3 1045.4,461.3 1062.3,303 1079.3,324.9 1096.2,367.3 1113.2,356.2 1130.1,249.7 1147.1,284.3 1164,331.9 1181,356.8 1197.9,466 1214.9,495.8" stroke="#fdd0a2" stroke-width="2.78" marker-start="url(#m27)" marker-mid="url(#m27)" marker-end="url(#m27)"/>
<polyline points="129.9,183.8 146.9,231.9 163.8,240.5 180.8,161.9 197.7,202.2 214.7,238.9 231.6,259.7 248.6,159 265.5,213.4 282.5,248.2 299.4,262.2 316.4,162.2 333.3,211.9 350.3,238.4 367.2,245.5 384.2,134.6 401.1,187.1 418.1,215.4 435.1,216.8 452,141.8 469,206.7 485.9,234.8 502.9,244.5 519.8,163.3 536.8,202.4 553.7,217 570.7,230.7 587.6,150 604.6,188.3 621.5,211.4 638.5,216.5 655.4,130.1 672.4,169.6 689.3,187.2 706.3,197 723.3,103.2 740.2,151.6 757.2,182.1 774.1,202.5 791.1,131.2 808,156.3 825,194.6 841.9,211.8 858.9,124.1 875.8,163.4 892.8,182.6 909.7,191.8 926.7,138.3 943.6,178.5 960.6,210.9 977.5,217.3 994.5,148.1 1011.5,176.3 1028.4,196.2 1045.4,211.5 1062.3,156.5 1079.3,241.4 1096.2,307.7 1113.2,380.3 1130.1,285 1147.1,335.9 1164,372.4 1181,363.3 1197.9,280.5 1214.9,306" stroke="#31a354" stroke-width="2.78" marker-start="url(#m28)" marker-mid="url(#m28)" marker-end="url(#m28)"/>
<polyline points="129.9,180.3 146.9,229.2 163.8,237.6 180.8,159.6 197.7,199.7 214.7,238.3 231.6,254.7 248.6,158.3 265.5,212.1 282.5,248 299.4,260.3 316.4,158.8 333.3,207.2 350.3,231.8 367.2,238.9 384.2,137.7 401.1,182.4 418.1,217.2 435.1,228.7 452,149 469,201.8 485.9,225.5 502.9,232.1 519.8,159 536.8,178.1 553.7,190.7 570.7,211.4 587.6,240.1 604.6,295.4 621.5,321.1 638.5,365.5 655.4,244 672.4,248.8 689.3,289.1 706.3,309.8 723.3,212.6 740.2,218.6 757.2,220.2 774.1,226.8 791.1,212.6 808,238.5 825,280 841.9,269.1 858.9,179 875.8,190.4 892.8,193.9 909.7,228.3 926.7,162.6 943.6,198.6 960.6,196.2 977.5,224.9 994.5,194.6 1011.5,210.3 1028.4,222.1 1045.4,202.8 1062.3,163.5 1079.3,179.2 1096.2,181.9 1113.2,186 1130.1,208.2 1147.1,267 1164,306.3 1181,321.5 1197.9,241.7 1214.9,267.2" stroke="#74c476" stroke-width="2.78" marker-start="url(#m29)" marker-mid="url(#m29)" marker-end="url(#m29)"/>
<polyline points="129.9,186.4 146.9,230.6 163.8,239.1 180.8,160 197.7,204.3 214.7,238.7 231.6,254.2 248.6,154.9 265.5,208.1 282.5,246.2 299.4,257.9 316.4,160 333.3,205.8 350.3,231.5 367.2,238.4 384.2,137.1 401.1,182.8 418.1,231 435.1,252 452,148 469,204.7 485.9,236.6 502.9,252.8 519.8,169.5 536.8,206.4 553.7,228.3 570.7,222.9 587.6,161.1 604.6,201.1 621.5,235.4 638.5,287.8 655.4,269.9 672.4,266 689.3,280.8 706.3,249.2 723.3,131.2 740.2,162.6 757.2,187.2 774.1,191.4 791.1,116 808,163.8 825,182.1 841.9,197.8 858.9,139.1 875.8,181.3 892.8,202.5 909.7,198.6 926.7,165.7 943.6,184.4 960.6,275.4 977.5,325.1 994.5,355.3 1011.5,392.9 1028.4,388.2 1045.4,426 1062.3,385.6 1079.3,427.6 1096.2,460.5 1113.2,468.3 1130.1,330.1 1147.1,329.1 1164,327.6 1181,295.2 1197.9,219.2 1214.9,244.7" stroke="#a1d99b" stroke-width="2.78" marker-start="url(#m30)" marker-mid="url(#m30)" marker-end="url(#m30)"/>
<polyline points="129.9,182.5 146.9,231.2 163.8,239.2 180.8,160.5 197.7,201.2 214.7,239.2 231.6,255 248.6,159.2 265.5,211.2 282.5,247 299.4,260 316.4,160 333.3,208 350.3,233.8 367.2,239.2 384.2,139.2 401.1,188.8 418.1,219.2 435.1,239.2 452,153.2 469,205 485.9,228.8 502.9,240 519.8,156.8 536.8,193.8 553.7,206.2 570.7,210.5 587.6,156.8 604.6,204.7 621.5,247 638.5,259.2 655.4,200.5 672.4,223 689.3,245 706.3,253.5 723.3,175.5 740.2,206 757.2,229.5 774.1,240.8 791.1,173.8 808,203 825,231.2 841.9,238.2 858.9,169.2 875.8,201.8 892.8,226.2 909.7,240.8 926.7,192.5 943.6,230.5 960.6,268 977.5,279.5 994.5,234 1011.5,271.9 1028.4,306 1045.4,324 1062.3,271.6 1079.3,301.6 1096.2,326.5 1113.2,339 1130.1,256.1 1147.1,281.1 1164,319 1181,334.3 1197.9,254.4 1214.9,279.9" stroke="#000" stroke-width="5.56" marker-start="url(#mm)" marker-mid="url(#mm)" marker-end="url(#mm)"/>
<polyline points="129.9,192.2 197.7,192.2 265.5,200 333.3,200 401.1,200 469,200 536.8,200 604.6,207.8 672.4,207.8 740.2,207.8 808,207.8 875.8,207.8 943.6,207.8 1011.5,215.7 1079.3,215.7 1147.1,215.7 1214.9,215.7" stroke="#c0c0c0" stroke-width="4.17" stroke-linecap="square"/>
<polyline points="129.9,379.9 197.7,379.9 265.5,387.7 333.3,387.7 401.1,387.7 469,387.7 536.8,387.7 604.6,395.5 672.4,395.5 740.2,395.5 808,395.5 875.8,395.5 943.6,395.5 1011.5,403.3 1079.3,403.3 1147.1,403.3 1214.9,403.3" stroke="#c0c0c0" stroke-width="4.17" stroke-linecap="square"/>
</g>
<text x="1238" y="639.2" font-size="12.6" text-anchor="end" textLength="116" lengthAdjust="spacingAndGlyphs">Data source: NOAA</text>
<text x="1238" y="654.2" font-size="12.6" text-anchor="end" textLength="184" lengthAdjust="spacingAndGlyphs">plot by Russ Schumacher/CSU</text>
<rect x="75.5" y="59.5" width="1194.0" height="599.0" fill="none" stroke="#000" stroke-width="1.1"/>
<path d="M129.5 658.5v4.9M197.3 658.5v4.9M265.1 658.5v4.9M332.9 658.5v4.9M400.7 658.5v4.9M468.6 658.5v4.9M536.4 658.5v4.9M604.2 658.5v4.9M672 658.5v4.9M739.8 658.5v4.9M807.6 658.5v4.9M875.4 658.5v4.9M943.2 658.5v4.9M1011.1 658.5v4.9M1078.9 658.5v4.9M1146.7 658.5v4.9M1214.5 658.5v4.9M75.5 591.5h-4.9M75.5 513.5h-4.9M75.5 435.5h-4.9M75.5 356.5h-4.9M75.5 278.5h-4.9M75.5 200.5h-4.9M75.5 122.5h-4.9" stroke="#000" stroke-width="1.1" fill="none"/>
<text x="129.5" y="679.8" font-size="16" text-anchor="middle" textLength="53.6" lengthAdjust="spacingAndGlyphs">00Z/11</text>
<text x="129.5" y="698" font-size="16" text-anchor="middle" textLength="26.3" lengthAdjust="spacingAndGlyphs">Thu</text>
<text x="197.3" y="679.8" font-size="16" text-anchor="middle" textLength="53.6" lengthAdjust="spacingAndGlyphs">00Z/12</text>
<text x="197.3" y="698" font-size="16" text-anchor="middle" textLength="16.5" lengthAdjust="spacingAndGlyphs">Fri</text>
<text x="265.1" y="679.8" font-size="16" text-anchor="middle" textLength="53.6" lengthAdjust="spacingAndGlyphs">00Z/13</text>
<text x="265.1" y="698" font-size="16" text-anchor="middle" textLength="24.5" lengthAdjust="spacingAndGlyphs">Sat</text>
<text x="332.9" y="679.8" font-size="16" text-anchor="middle" textLength="53.6" lengthAdjust="spacingAndGlyphs">00Z/14</text>
<text x="332.9" y="698" font-size="16" text-anchor="middle" textLength="27.5" lengthAdjust="spacingAndGlyphs">Sun</text>
<text x="400.7" y="679.8" font-size="16" text-anchor="middle" textLength="53.6" lengthAdjust="spacingAndGlyphs">00Z/15</text>
<text x="400.7" y="698" font-size="16" text-anchor="middle" textLength="31.5" lengthAdjust="spacingAndGlyphs">Mon</text>
<text x="468.6" y="679.8" font-size="16" text-anchor="middle" textLength="53.6" lengthAdjust="spacingAndGlyphs">00Z/16</text>
<text x="468.6" y="698" font-size="16" text-anchor="middle" textLength="26.5" lengthAdjust="spacingAndGlyphs">Tue</text>
<text x="536.4" y="679.8" font-size="16" text-anchor="middle" textLength="53.6" lengthAdjust="spacingAndGlyphs">00Z/17</text>
<text x="536.4" y="698" font-size="16" text-anchor="middle" textLength="32.5" lengthAdjust="spacingAndGlyphs">Wed</text>
<text x="604.2" y="679.8" font-size="16" text-anchor="middle" textLength="53.6" lengthAdjust="spacingAndGlyphs">00Z/18</text>
<text x="604.2" y="698" font-size="16" text-anchor="middle" textLength="26.3" lengthAdjust="spacingAndGlyphs">Thu</text>
<text x="672" y="679.8" font-size="16" text-anchor="middle" textLength="53.6" lengthAdjust="spacingAndGlyphs">00Z/19</text>
<text x="672" y="698" font-size="16" text-anchor="middle" textLength="16.5" lengthAdjust="spacingAndGlyphs">Fri</text>
<text x="739.8" y="679.8" font-size="16" text-anchor="middle" textLength="53.6" lengthAdjust="spacingAndGlyphs">00Z/20</text>
<text x="739.8" y="698" font-size="16" text-anchor="middle" textLength="24.5" lengthAdjust="spacingAndGlyphs">Sat</text>
<text x="807.6" y="679.8" font-size="16" text-anchor="middle" textLength="53.6" lengthAdjust="spacingAndGlyphs">00Z/21</text>
<text x="807.6" y="698" font-size="16" text-anchor="middle" textLength="27.5" lengthAdjust="spacingAndGlyphs">Sun</text>
<text x="875.4" y="679.8" font-size="16" text-anchor="middle" textLength="53.6" lengthAdjust="spacingAndGlyphs">00Z/22</text>
<text x="875.4" y="698" font-size="16" text-anchor="middle" textLength="31.5" lengthAdjust="spacingAndGlyphs">Mon</text>
<text x="943.2" y="679.8" font-size="16" text-anchor="middle" textLength="53.6" lengthAdjust="spacingAndGlyphs">00Z/23</text>
<text x="943.2" y="698" font-size="16" text-anchor="middle" textLength="26.5" lengthAdjust="spacingAndGlyphs">Tue</text>
<text x="1011.1" y="679.8" font-size="16" text-anchor="middle" textLength="53.6" lengthAdjust="spacingAndGlyphs">00Z/24</text>
<text x="1011.1" y="698" font-size="16" text-anchor="middle" textLength="32.5" lengthAdjust="spacingAndGlyphs">Wed</text>
<text x="1078.9" y="679.8" font-size="16" text-anchor="middle" textLength="53.6" lengthAdjust="spacingAndGlyphs">00Z/25</text>
<text x="1078.9" y="698" font-size="16" text-anchor="middle" textLength="26.3" lengthAdjust="spacingAndGlyphs">Thu</text>
<text x="1146.7" y="679.8" font-size="16" text-anchor="middle" textLength="53.6" lengthAdjust="spacingAndGlyphs">00Z/26</text>
<text x="1146.7" y="698" font-size="16" text-anchor="middle" textLength="16.5" lengthAdjust="spacingAndGlyphs">Fri</text>
<text x="1214.5" y="679.8" font-size="16" text-anchor="middle" textLength="53.6" lengthAdjust="spacingAndGlyphs">00Z/27</text>
<text x="1214.5" y="698" font-size="16" text-anchor="middle" textLength="24.5" lengthAdjust="spacingAndGlyphs">Sat</text>
<text x="64.6" y="596.8" font-size="16" text-anchor="end" textLength="30.5" lengthAdjust="spacingAndGlyphs">−20</text>
<text x="64.6" y="518.8" font-size="16" text-anchor="end" textLength="30.5" lengthAdjust="spacingAndGlyphs">−10</text>
<text x="64.6" y="440.8" font-size="16" text-anchor="end" textLength="8.8" lengthAdjust="spacingAndGlyphs">0</text>
<text x="64.6" y="361.8" font-size="16" text-anchor="end" textLength="18.1" lengthAdjust="spacingAndGlyphs">10</text>
<text x="64.6" y="283.8" font-size="16" text-anchor="end" textLength="18.1" lengthAdjust="spacingAndGlyphs">20</text>
<text x="64.6" y="205.8" font-size="16" text-anchor="end" textLength="18.1" lengthAdjust="spacingAndGlyphs">30</text>
<text x="64.6" y="127.8" font-size="16" text-anchor="end" textLength="18.1" lengthAdjust="spacingAndGlyphs">40</text>
<text x="671.6" y="720.2" font-size="16" text-anchor="middle" textLength="121.2" lengthAdjust="spacingAndGlyphs">time (UTC)/date</text>
<text transform="translate(21.6,359.6) rotate(-90)" font-size="16" text-anchor="middle" textLength="194" lengthAdjust="spacingAndGlyphs">temperature (Fahrenheit)</text>
<text x="652.3" y="25" font-size="17.6" text-anchor="middle" font-weight="bold" textLength="527" lengthAdjust="spacingAndGlyphs">NCEP GEFS 2-m temperature at Steamboat Springs</text>
<text x="671.4" y="49.5" font-size="17.6" text-anchor="middle" textLength="331.3" lengthAdjust="spacingAndGlyphs">init: Thursday 2025-12-11 0000 UTC</text>
<rect x="1194.7" y="125.2" width="68.09999999999991" height="526.4" rx="2.8" ry="2.8" fill="#fff" fill-opacity="0.8" stroke="#ccc" stroke-opacity="0.8" stroke-width="1.4"/>
<text x="1228.5" y="139" font-size="10.8" text-anchor="middle" textLength="48" lengthAdjust="spacingAndGlyphs">member</text>
<path d="M1197.3 151.3h24.4" stroke="#393b79" stroke-width="2.78"/><circle cx="1209.5" cy="151.3" r="3.8" fill="#393b79"/>
<text x="1228.2" y="155.4" font-size="11" text-anchor="start" textLength="18.5" lengthAdjust="spacingAndGlyphs">c00</text>
<path d="M1197.3 166.6h24.4" stroke="#5254a3" stroke-width="2.78"/><circle cx="1209.5" cy="166.6" r="3.8" fill="#5254a3"/>
<text x="1228.2" y="170.7" font-size="11" text-anchor="start" textLength="19.4" lengthAdjust="spacingAndGlyphs">p01</text>
<path d="M1197.3 182h24.4" stroke="#6b6ecf" stroke-width="2.78"/><circle cx="1209.5" cy="182" r="3.8" fill="#6b6ecf"/>
<text x="1228.2" y="186.1" font-size="11" text-anchor="start" textLength="19.4" lengthAdjust="spacingAndGlyphs">p02</text>
<path d="M1197.3 197.3h24.4" stroke="#9c9ede" stroke-width="2.78"/><circle cx="1209.5" cy="197.3" r="3.8" fill="#9c9ede"/>
<text x="1228.2" y="201.4" font-size="11" text-anchor="start" textLength="19.4" lengthAdjust="spacingAndGlyphs">p03</text>
<path d="M1197.3 212.6h24.4" stroke="#637939" stroke-width="2.78"/><circle cx="1209.5" cy="212.6" r="3.8" fill="#637939"/>
<text x="1228.2" y="216.7" font-size="11" text-anchor="start" textLength="19.4" lengthAdjust="spacingAndGlyphs">p04</text>
<path d="M1197.3 228h24.4" stroke="#8ca252" stroke-width="2.78"/><circle cx="1209.5" cy="228" r="3.8" fill="#8ca252"/>
<text x="1228.2" y="232.1" font-size="11" text-anchor="start" textLength="19.4" lengthAdjust="spacingAndGlyphs">p05</text>
<path d="M1197.3 243.3h24.4" stroke="#b5cf6b" stroke-width="2.78"/><circle cx="1209.5" cy="243.3" r="3.8" fill="#b5cf6b"/>
<text x="1228.2" y="247.4" font-size="11" text-anchor="start" textLength="19.4" lengthAdjust="spacingAndGlyphs">p06</text>
<path d="M1197.3 258.6h24.4" stroke="#cedb9c" stroke-width="2.78"/><circle cx="1209.5" cy="258.6" r="3.8" fill="#cedb9c"/>
<text x="1228.2" y="262.7" font-size="11" text-anchor="start" textLength="19.4" lengthAdjust="spacingAndGlyphs">p07</text>
<path d="M1197.3 273.9h24.4" stroke="#8c6d31" stroke-width="2.78"/><circle cx="1209.5" cy="273.9" r="3.8" fill="#8c6d31"/>
<text x="1228.2" y="278" font-size="11" text-anchor="start" textLength="19.4" lengthAdjust="spacingAndGlyphs">p08</text>
<path d="M1197.3 289.3h24.4" stroke="#bd9e39" stroke-width="2.78"/><circle cx="1209.5" cy="289.3" r="3.8" fill="#bd9e39"/>
<text x="1228.2" y="293.4" font-size="11" text-anchor="start" textLength="19.4" lengthAdjust="spacingAndGlyphs">p09</text>
<path d="M1197.3 304.6h24.4" stroke="#e7ba52" stroke-width="2.78"/><circle cx="1209.5" cy="304.6" r="3.8" fill="#e7ba52"/>
<text x="1228.2" y="308.7" font-size="11" text-anchor="start" textLength="19.4" lengthAdjust="spacingAndGlyphs">p10</text>
<path d="M1197.3 319.9h24.4" stroke="#e7cb94" stroke-width="2.78"/><circle cx="1209.5" cy="319.9" r="3.8" fill="#e7cb94"/>
<text x="1228.2" y="324" font-size="11" text-anchor="start" textLength="19.4" lengthAdjust="spacingAndGlyphs">p11</text>
<path d="M1197.3 335.3h24.4" stroke="#843c39" stroke-width="2.78"/><circle cx="1209.5" cy="335.3" r="3.8" fill="#843c39"/>
<text x="1228.2" y="339.4" font-size="11" text-anchor="start" textLength="19.4" lengthAdjust="spacingAndGlyphs">p12</text>
<path d="M1197.3 350.6h24.4" stroke="#ad494a" stroke-width="2.78"/><circle cx="1209.5" cy="350.6" r="3.8" fill="#ad494a"/>
<text x="1228.2" y="354.7" font-size="11" text-anchor="start" textLength="19.4" lengthAdjust="spacingAndGlyphs">p13</text>
<path d="M1197.3 365.9h24.4" stroke="#d6616b" stroke-width="2.78"/><circle cx="1209.5" cy="365.9" r="3.8" fill="#d6616b"/>
<text x="1228.2" y="370" font-size="11" text-anchor="start" textLength="19.4" lengthAdjust="spacingAndGlyphs">p14</text>
<path d="M1197.3 381.2h24.4" stroke="#e7969c" stroke-width="2.78"/><circle cx="1209.5" cy="381.2" r="3.8" fill="#e7969c"/>
<text x="1228.2" y="385.3" font-size="11" text-anchor="start" textLength="19.4" lengthAdjust="spacingAndGlyphs">p15</text>
<path d="M1197.3 396.6h24.4" stroke="#7b4173" stroke-width="2.78"/><circle cx="1209.5" cy="396.6" r="3.8" fill="#7b4173"/>
<text x="1228.2" y="400.7" font-size="11" text-anchor="start" textLength="19.4" lengthAdjust="spacingAndGlyphs">p16</text>
<path d="M1197.3 411.9h24.4" stroke="#a55194" stroke-width="2.78"/><circle cx="1209.5" cy="411.9" r="3.8" fill="#a55194"/>
<text x="1228.2" y="416" font-size="11" text-anchor="start" textLength="19.4" lengthAdjust="spacingAndGlyphs">p17</text>
<path d="M1197.3 427.2h24.4" stroke="#ce6dbd" stroke-width="2.78"/><circle cx="1209.5" cy="427.2" r="3.8" fill="#ce6dbd"/>
<text x="1228.2" y="431.3" font-size="11" text-anchor="start" textLength="19.4" lengthAdjust="spacingAndGlyphs">p18</text>
<path d="M1197.3 442.6h24.4" stroke="#de9ed6" stroke-width="2.78"/><circle cx="1209.5" cy="442.6" r="3.8" fill="#de9ed6"/>
<text x="1228.2" y="446.7" font-size="11" text-anchor="start" textLength="19.4" lengthAdjust="spacingAndGlyphs">p19</text>
<path d="M1197.3 457.9h24.4" stroke="#3182bd" stroke-width="2.78"/><circle cx="1209.5" cy="457.9" r="3.8" fill="#3182bd"/>
<text x="1228.2" y="462" font-size="11" text-anchor="start" textLength="19.4" lengthAdjust="spacingAndGlyphs">p20</text>
<path d="M1197.3 473.2h24.4" stroke="#6baed6" stroke-width="2.78"/><circle cx="1209.5" cy="473.2" r="3.8" fill="#6baed6"/>
<text x="1228.2" y="477.3" font-size="11" text-anchor="start" textLength="19.4" lengthAdjust="spacingAndGlyphs">p21</text>
<path d="M1197.3 488.6h24.4" stroke="#9ecae1" stroke-width="2.78"/><circle cx="1209.5" cy="488.6" r="3.8" fill="#9ecae1"/>
<text x="1228.2" y="492.7" font-size="11" text-anchor="start" textLength="19.4" lengthAdjust="spacingAndGlyphs">p22</text>
<path d="M1197.3 503.9h24.4" stroke="#c6dbef" stroke-width="2.78"/><circle cx="1209.5" cy="503.9" r="3.8" fill="#c6dbef"/>
<text x="1228.2" y="508" font-size="11" text-anchor="start" textLength="19.4" lengthAdjust="spacingAndGlyphs">p23</text>
<path d="M1197.3 519.2h24.4" stroke="#e6550d" stroke-width="2.78"/><circle cx="1209.5" cy="519.2" r="3.8" fill="#e6550d"/>
<text x="1228.2" y="523.3" font-size="11" text-anchor="start" textLength="19.4" lengthAdjust="spacingAndGlyphs">p24</text>
<path d="M1197.3 534.5h24.4" stroke="#fd8d3c" stroke-width="2.78"/><circle cx="1209.5" cy="534.5" r="3.8" fill="#fd8d3c"/>
<text x="1228.2" y="538.6" font-size="11" text-anchor="start" textLength="19.4" lengthAdjust="spacingAndGlyphs">p25</text>
<path d="M1197.3 549.9h24.4" stroke="#fdae6b" stroke-width="2.78"/><circle cx="1209.5" cy="549.9" r="3.8" fill="#fdae6b"/>
<text x="1228.2" y="554" font-size="11" text-anchor="start" textLength="19.4" lengthAdjust="spacingAndGlyphs">p26</text>
<path d="M1197.3 565.2h24.4" stroke="#fdd0a2" stroke-width="2.78"/><circle cx="1209.5" cy="565.2" r="3.8" fill="#fdd0a2"/>
<text x="1228.2" y="569.3" font-size="11" text-anchor="start" textLength="19.4" lengthAdjust="spacingAndGlyphs">p27</text>
<path d="M1197.3 580.5h24.4" stroke="#31a354" stroke-width="2.78"/><circle cx="1209.5" cy="580.5" r="3.8" fill="#31a354"/>
<text x="1228.2" y="584.6" font-size="11" text-anchor="start" textLength="19.4" lengthAdjust="spacingAndGlyphs">p28</text>
<path d="M1197.3 595.9h24.4" stroke="#74c476" stroke-width="2.78"/><circle cx="1209.5" cy="595.9" r="3.8" fill="#74c476"/>
<text x="1228.2" y="600" font-size="11" text-anchor="start" textLength="19.4" lengthAdjust="spacingAndGlyphs">p29</text>
<path d="M1197.3 611.2h24.4" stroke="#a1d99b" stroke-width="2.78"/><circle cx="1209.5" cy="611.2" r="3.8" fill="#a1d99b"/>
<text x="1228.2" y="615.3" font-size="11" text-anchor="start" textLength="19.4" lengthAdjust="spacingAndGlyphs">p30</text>
<path d="M1196 626.5h27" stroke="#000" stroke-width="5.56"/><circle cx="1209.5" cy="626.5" r="5.6" fill="#000"/>
<text x="1228.2" y="630.6" font-size="11" text-anchor="start" textLength="30" lengthAdjust="spacingAndGlyphs">mean</text>
<path d="M1196.6 641.9h25.8" stroke="#c0c0c0" stroke-width="4.17"/>
<text x="1228.2" y="646" font-size="11" text-anchor="start" textLength="28.3" lengthAdjust="spacingAndGlyphs">climo</text>
</svg></body></html>
